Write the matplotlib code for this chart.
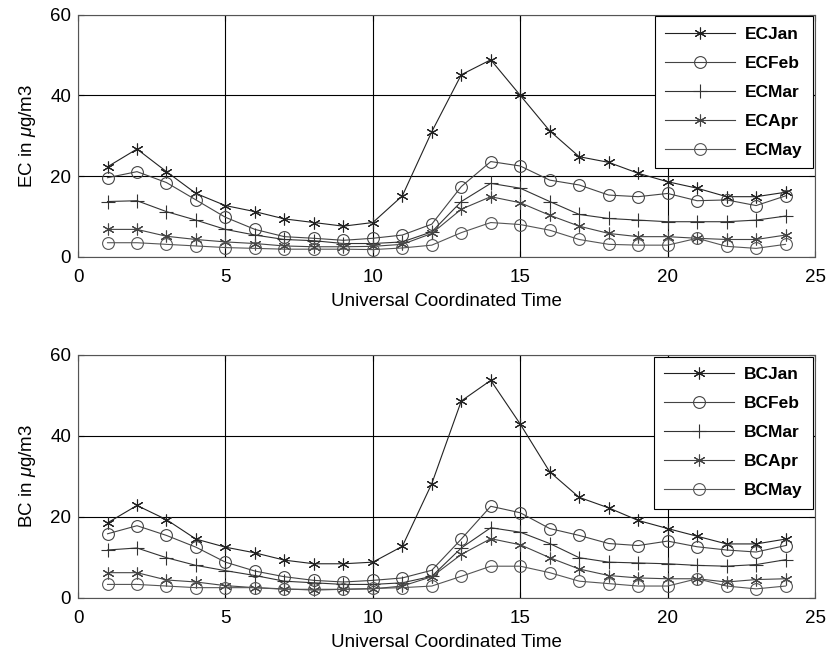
import matplotlib
matplotlib.use("Agg")
import matplotlib.pyplot as plt
import numpy as np

plt.rcParams['font.family'] = ['Liberation Sans', 'DejaVu Sans']
plt.rcParams['mathtext.fontset'] = 'custom'
plt.rcParams['mathtext.it'] = 'Liberation Sans:italic'
plt.rcParams['mathtext.rm'] = 'Liberation Sans'

hours = list(range(1, 25))

ec_jan = [22.3, 26.7, 21.1, 15.7, 12.7, 11.2, 9.4, 8.5, 7.6, 8.5, 15.1, 31.0,
          45.1, 48.8, 40.0, 31.2, 24.8, 23.4, 20.7, 18.6, 17.0, 14.9, 14.9, 16.0]
ec_feb = [19.6, 21.1, 18.4, 14.1, 9.8, 6.8, 5.0, 4.6, 4.1, 4.6, 5.4, 8.1,
          17.4, 23.6, 22.5, 19.0, 17.8, 15.3, 14.9, 15.7, 13.9, 14.1, 12.7, 15.1]
ec_mar = [13.7, 13.9, 11.2, 9.1, 6.8, 5.4, 4.3, 4.0, 3.3, 3.3, 3.7, 6.2,
          13.7, 18.2, 17.0, 13.7, 10.5, 9.5, 9.1, 8.7, 8.7, 8.7, 9.1, 10.1]
ec_apr = [6.8, 6.8, 5.1, 4.3, 3.7, 3.3, 2.7, 2.5, 2.5, 2.6, 3.1, 5.8,
          11.8, 14.9, 13.4, 10.3, 7.6, 5.8, 5.0, 5.0, 4.6, 4.3, 4.3, 5.4]
ec_may = [3.5, 3.5, 3.1, 2.7, 2.3, 2.1, 1.9, 1.9, 1.9, 1.8, 2.2, 2.9,
          6.0, 8.5, 8.0, 6.6, 4.3, 3.1, 2.9, 2.9, 4.6, 2.6, 2.1, 3.1]

bc_jan = [18.5, 22.8, 19.3, 14.5, 12.5, 11.1, 9.3, 8.4, 8.4, 8.8, 12.7, 28.2,
          48.6, 53.7, 42.9, 31.1, 24.8, 22.2, 19.1, 17.1, 15.2, 13.3, 13.3, 14.5]
bc_feb = [15.8, 17.8, 15.4, 12.5, 8.8, 6.6, 5.2, 4.3, 3.9, 4.3, 4.9, 6.8,
          14.5, 22.6, 21.0, 17.1, 15.4, 13.4, 12.9, 14.0, 12.6, 11.8, 11.3, 12.9]
bc_mar = [11.8, 12.3, 9.9, 8.0, 6.7, 5.5, 4.1, 3.7, 3.3, 3.3, 3.7, 5.3,
          12.3, 17.3, 16.2, 13.4, 9.9, 8.8, 8.6, 8.4, 8.0, 7.8, 8.2, 9.4]
bc_apr = [6.2, 6.2, 4.4, 3.9, 3.0, 2.5, 2.2, 1.9, 2.1, 2.2, 2.9, 5.2,
          10.7, 14.6, 13.1, 9.9, 7.1, 5.5, 4.9, 4.7, 4.7, 3.9, 4.5, 4.7]
bc_may = [3.3, 3.3, 2.9, 2.5, 2.5, 2.5, 2.1, 2.1, 2.1, 2.3, 2.5, 2.9,
          5.3, 7.8, 7.8, 6.2, 4.1, 3.5, 2.9, 2.9, 4.7, 2.9, 2.2, 2.9]

months = ['Jan', 'Feb', 'Mar', 'Apr', 'May']
asterisk = (6, 2, 0)
markers = [asterisk, 'o', '+', asterisk, 'o']
colors = ['#222222', '#444444', '#333333', '#444444', '#555555']

x_ticks = [0, 5, 10, 15, 20, 25]
y_ticks = [0, 20, 40, 60]

fig = plt.figure(figsize=(8.3, 6.62), dpi=100)
ax1 = fig.add_axes([0.094, 0.612, 0.888, 0.366])
ax2 = fig.add_axes([0.094, 0.097, 0.888, 0.367])

def draw(ax, prefix, series):
    for name, vals, m, c in zip(months, series, markers, colors):
        size = 10 if m == '+' else 8.5
        ax.plot(hours, vals, color=c, lw=0.8, marker=m, markersize=size,
                markerfacecolor='none', markeredgecolor=c, markeredgewidth=0.8,
                label=prefix + name)
    ax.set_xlim(0, 25)
    ax.set_ylim(0, 60)
    ax.set_xticks(x_ticks)
    ax.set_yticks(y_ticks)
    ax.grid(True, color='black', lw=0.8)
    ax.tick_params(direction='in', top=True, right=True, labelsize=13.5, length=4)
    ax.tick_params(axis='x', pad=9)
    ax.tick_params(axis='y', pad=5)
    for s in ax.spines.values():
        s.set_linewidth(0.8)
        s.set_color('#555555')
    ax.set_xlabel('Universal Coordinated Time', fontsize=13.5, labelpad=5)
    ax.set_ylabel(prefix + r' in $\mu$g/m3', fontsize=13.5, labelpad=9)
    leg = ax.legend(loc='upper right', prop={'weight': 'bold', 'size': 12.5},
                    frameon=True, fancybox=False, edgecolor='black', framealpha=1,
                    borderaxespad=0.1, handlelength=4.0, labelspacing=0.8,
                    borderpad=0.6, handletextpad=0.6)
    leg.get_frame().set_linewidth(0.8)

draw(ax1, 'EC', [ec_jan, ec_feb, ec_mar, ec_apr, ec_may])
draw(ax2, 'BC', [bc_jan, bc_feb, bc_mar, bc_apr, bc_may])

fig.savefig('out.png', dpi=100)
